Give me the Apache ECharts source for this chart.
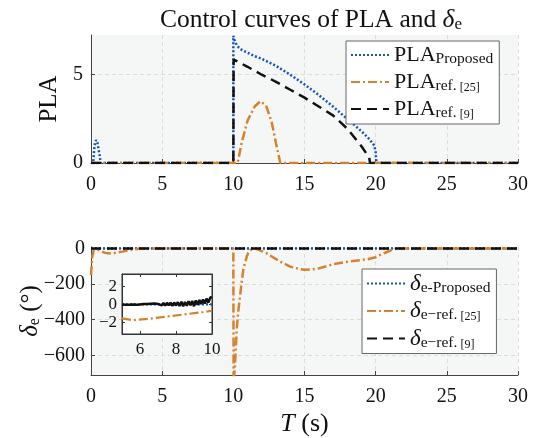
<!DOCTYPE html>
<html><head><meta charset="utf-8">
<script src="https://cdn.jsdelivr.net/npm/echarts@6/dist/echarts.min.js"></script>
<style>html,body{margin:0;padding:0;background:#fff}#c{width:536px;height:438px}</style>
</head><body><div id="c"></div>
<script>
// ---------- DATA ----------
const xTicks = [0, 5, 10, 15, 20, 25, 30];
const plaTicks = [0, 5];
const deTicks = [-600, -400, -200, 0];
const insetXTicks = [6, 8, 10];
const insetYTicks = [-2, 0, 2];

// PLA – proposed
const plaPropT = [0, 0.15, 0.25, 0.35, 0.45, 0.55, 0.65, 0.7, 10, 10.0, 10.1, 10.3, 10.6, 11, 11.5, 12, 13, 14, 15, 16, 17, 18, 19, 19.5, 19.9, 20.0, 20.05, 30];
const plaPropY = [0, 0, 1.0, 1.3, 1.15, 0.7, 0.2, 0, 0, 7.2, 6.9, 6.6, 6.4, 6.25, 6.05, 5.9, 5.5, 5.0, 4.45, 3.85, 3.2, 2.5, 1.8, 1.4, 1.0, 0.6, 0, 0];
// PLA – ref [25]
const plaR25T = [0, 10.3, 10.6, 11, 11.5, 11.9, 12.3, 12.7, 13.0, 13.3, 30];
const plaR25Y = [0, 0, 1.2, 2.4, 3.2, 3.5, 3.25, 2.3, 1.1, 0, 0];
// PLA – ref [9]
const plaR9T = [0, 10, 10.02, 11, 12, 13, 14, 15, 16, 17, 18, 19, 19.55, 19.6, 30];
const plaR9Y = [0, 0, 5.86, 5.45, 5.0, 4.6, 4.15, 3.7, 3.2, 2.7, 1.95, 0.95, 0.3, 0, 0];

// delta_e – proposed / ref [9]
const dePropT = [0, 30];
const dePropY = [0, 0];
const deR9T = [0, 30];
const deR9Y = [0, 0];
// delta_e – ref [25]
const deR25T = [0, 0.1, 0.2, 0.4, 0.7, 1.0, 1.3, 1.7, 2.2, 2.8, 3.5, 10, 10.02, 10.12, 10.24, 10.35, 10.47, 10.6, 10.7, 10.82, 10.94, 11.05, 11.17, 11.3, 11.45, 11.7, 12, 12.35, 13, 13.5, 14, 14.7, 15, 15.5, 16, 17, 18, 19.4, 20, 20.3, 20.8, 21.25, 21.7, 30];
const deR25Y = [-150, -40, -10, -5, -15, -25, -28, -25, -18, -8, 0, 0, -760, -650, -453, -350, -269, -180, -120, -80, -47, -25, -9, -2, 0, -5, -15, -28, -60, -83, -102, -117, -120, -118, -112, -89, -75, -61, -50, -37, -20, -4, 0, 0];

// inset (zoom 5–10 s)
const inT = [5.0,5.1,5.2,5.3,5.4,5.5,5.6,5.7,5.8,5.9,6.0,6.1,6.2,6.3,6.4,6.5,6.6,6.7,6.8,6.9,7.0,7.1,7.2,7.3,7.4,7.5,7.6,7.7,7.8,7.9,8.0,8.1,8.2,8.3,8.4,8.5,8.6,8.7,8.8,8.9,9.0,9.1,9.2,9.3,9.4,9.5,9.6,9.7,9.8,9.9,10.0];
const inBlack = [0.00,0.02,-0.03,0.01,-0.02,0.03,-0.01,0.02,-0.04,0.03,0.00,-0.05,0.06,-0.03,0.04,-0.07,0.08,-0.05,0.10,-0.08,0.06,0.12,-0.10,0.15,-0.12,0.18,-0.08,0.20,-0.15,0.22,-0.12,0.25,-0.18,0.30,-0.20,0.28,-0.15,0.35,-0.10,0.40,-0.20,0.45,-0.05,0.50,0.05,0.55,0.10,0.65,0.20,0.75,0.85];
const inBlueT = [5, 10];
const inBlueY = [0, 0];
const inOrT = [5.0, 5.6, 6.5, 7.5, 8.5, 9.5, 10.0];
const inOrY = [-1.55, -1.75, -1.6, -1.35, -1.1, -0.85, -0.7];

// ---------- STYLE ----------
const FF = 'Liberation Serif';
const BLUE = '#1a56b0', ORANGE = '#d6812d', BLACK = '#111111';
const DOT = [2, 2], DASHDOT = [9, 3, 2, 3], DASH = [10, 6];
const pairs = (t, y) => t.map((v, i) => [v, y[i]]);
const numFmt = v => '{n|' + String(v).replace('-', '\u2212') + '}';

const richBase = {
  m: {fontFamily: FF, fontSize: 22, color: '#111', lineHeight: 24},
  d: {fontFamily: FF, fontSize: 23, fontStyle: 'italic', color: '#111', lineHeight: 24},
  s: {fontFamily: FF, fontSize: 15.5, color: '#111', lineHeight: 12, verticalAlign: 'bottom'},
  t: {fontFamily: FF, fontSize: 12, color: '#111', lineHeight: 12, verticalAlign: 'bottom'}
};
const legendText = {
  PLA_Proposed: '{m|PLA}{s|Proposed}',
  PLA_ref25: '{m|PLA}{s|ref.}{t| [25]}',
  PLA_ref9: '{m|PLA}{s|ref.}{t| [9]}',
  d_Proposed: '{d|δ}{s|e-Proposed}',
  d_ref25: '{d|δ}{s|e\u2212ref.}{t| [25]}',
  d_ref9: '{d|δ}{s|e\u2212ref.}{t| [9]}'
};

const axisLineStyle = {color: '#444', width: 1};
const splitLineStyle = {show: true, lineStyle: {color: '#dcdcdc', type: [4, 3], width: 1}};
const tickLabel = {fontFamily: FF, fontSize: 20, color: '#111', formatter: numFmt,
  rich: {n: {fontFamily: FF, fontSize: 20, color: '#111'}}};
const insetLabel = {fontFamily: FF, fontSize: 17, color: '#111', formatter: numFmt,
  rich: {n: {fontFamily: FF, fontSize: 17, color: '#111'}}};

function mainX(gi) {
  return {type: 'value', gridIndex: gi, min: 0, max: 30, interval: 5,
    axisLine: {show: true, lineStyle: axisLineStyle, onZero: false},
    axisTick: {show: true, inside: true, length: 4, lineStyle: axisLineStyle},
    axisLabel: Object.assign({margin: 12}, tickLabel),
    splitLine: splitLineStyle};
}
function line(name, t, y, color, dash, width, xi, yi, z) {
  return {type: 'line', name, xAxisIndex: xi, yAxisIndex: yi, data: pairs(t, y),
    symbol: 'none', showSymbol: false, animation: false, z: z || 2,
    lineStyle: {color, type: dash, width: width, cap: 'butt'},
    itemStyle: {color}};
}
const legendCommon = {
  orient: 'vertical', itemWidth: 38, itemHeight: 12, itemGap: 4, padding: [3, 6, 3, 4],
  borderColor: '#666', borderWidth: 1, backgroundColor: '#ffffff',
  itemStyle: {color: 'rgba(0,0,0,0)', borderWidth: 0, opacity: 0},
  formatter: n => legendText[n], textStyle: {rich: richBase}
};

const option = {
  animation: false,
  backgroundColor: '#ffffff',
  textStyle: {fontFamily: FF},
  title: {
    text: '{a|Control curves of PLA and }{d|δ}{s|e}',
    left: 306, top: 2, textAlign: 'center',
    textStyle: {fontWeight: 'normal', rich: {
      a: {fontFamily: FF, fontSize: 25.5, fontWeight: 'normal', color: '#111', lineHeight: 26},
      d: {fontFamily: FF, fontSize: 25.5, fontWeight: 'normal', fontStyle: 'italic', color: '#111', lineHeight: 26},
      s: {fontFamily: FF, fontSize: 17, fontWeight: 'normal', color: '#111', lineHeight: 14, verticalAlign: 'bottom'}
    }}
  },
  grid: [
    {left: 91, top: 35, width: 427, height: 128, show: true, backgroundColor: '#f5f7f7', borderWidth: 0, containLabel: false},
    {left: 91, top: 247, width: 427, height: 129, show: true, backgroundColor: '#f5f7f7', borderWidth: 0, containLabel: false},
    {left: 122, top: 274, width: 90, height: 60, show: true, backgroundColor: '#ffffff', borderWidth: 1, borderColor: '#333', z: 3}
  ],
  xAxis: [
    mainX(0),
    Object.assign(mainX(1), {name: '{i|T}{a| (s)}', nameLocation: 'middle', nameGap: 36, nameMoveOverlap: false,
      nameTextStyle: {rich: {i: {fontFamily: FF, fontSize: 26, fontStyle: 'italic', color: '#111'}, a: {fontFamily: FF, fontSize: 26, color: '#111'}}}}),
    {type: 'value', gridIndex: 2, min: 5, max: 10, z: 4,
      axisLine: {show: true, lineStyle: {color: '#333'}, onZero: false},
      axisTick: {show: true, inside: true, length: 3, customValues: insetXTicks, lineStyle: {color: '#333'}},
      axisLabel: Object.assign({margin: 7, customValues: insetXTicks}, insetLabel),
      splitLine: {show: false}},
    {type: 'value', gridIndex: 2, min: 5, max: 10, position: 'top', z: 4,
      axisLine: {show: true, lineStyle: {color: '#333'}, onZero: false},
      axisTick: {show: true, inside: true, length: 3, customValues: insetXTicks, lineStyle: {color: '#333'}},
      axisLabel: {show: false}, splitLine: {show: false}}
  ],
  yAxis: [
    {type: 'value', gridIndex: 0, min: 0, max: 7.25,
      name: 'PLA', nameLocation: 'middle', nameGap: 29, nameMoveOverlap: false,
      nameTextStyle: {fontFamily: FF, fontSize: 25, color: '#111'},
      axisLine: {show: true, lineStyle: axisLineStyle, onZero: false},
      axisTick: {show: true, inside: true, length: 4, customValues: plaTicks, lineStyle: axisLineStyle},
      axisLabel: Object.assign({margin: 8, customValues: plaTicks}, tickLabel),
      splitLine: splitLineStyle},
    {type: 'value', gridIndex: 1, min: -710, max: 8,
      name: '{d|δ}{s|e}{a| (°)}', nameLocation: 'middle', nameGap: 48, nameMoveOverlap: false,
      nameTextStyle: {rich: {
        d: {fontFamily: FF, fontSize: 25, fontStyle: 'italic', color: '#111', lineHeight: 26},
        s: {fontFamily: FF, fontSize: 16, color: '#111', lineHeight: 14, verticalAlign: 'bottom'},
        a: {fontFamily: FF, fontSize: 25, color: '#111', lineHeight: 26}}},
      axisLine: {show: true, lineStyle: axisLineStyle, onZero: false},
      axisTick: {show: true, inside: true, length: 4, customValues: deTicks, lineStyle: axisLineStyle},
      axisLabel: Object.assign({margin: 6, customValues: deTicks}, tickLabel),
      splitLine: splitLineStyle},
    {type: 'value', gridIndex: 2, min: -3.3, max: 3.4, z: 4,
      axisLine: {show: true, lineStyle: {color: '#333'}, onZero: false},
      axisTick: {show: true, inside: true, length: 3, customValues: insetYTicks, lineStyle: {color: '#333'}},
      axisLabel: Object.assign({margin: 5, customValues: insetYTicks}, insetLabel),
      splitLine: {show: false}},
    {type: 'value', gridIndex: 2, min: -3.3, max: 3.4, position: 'right', z: 4,
      axisLine: {show: true, lineStyle: {color: '#333'}, onZero: false},
      axisTick: {show: true, inside: true, length: 3, customValues: insetYTicks, lineStyle: {color: '#333'}},
      axisLabel: {show: false}, splitLine: {show: false}}
  ],
  legend: [
    Object.assign({data: ['PLA_Proposed', 'PLA_ref25', 'PLA_ref9'], left: 346, top: 41}, legendCommon),
    Object.assign({data: ['d_Proposed', 'd_ref25', 'd_ref9'], left: 362, top: 269}, legendCommon)
  ],
  series: [
    line('PLA_Proposed', plaPropT, plaPropY, BLUE, DOT, 2.5, 0, 0),
    line('PLA_ref25', plaR25T, plaR25Y, ORANGE, DASHDOT, 2.5, 0, 0),
    line('PLA_ref9', plaR9T, plaR9Y, BLACK, DASH, 2.5, 0, 0),
    line('d_Proposed', dePropT, dePropY, BLUE, DOT, 2.5, 1, 1),
    line('d_ref25', deR25T, deR25Y, ORANGE, DASHDOT, 2.5, 1, 1),
    line('d_ref9', deR9T, deR9Y, BLACK, DASH, 2.5, 1, 1),
    line('in_blue', inBlueT, inBlueY, BLUE, DOT, 2.2, 2, 2, 5),
    line('in_orange', inOrT, inOrY, ORANGE, DASHDOT, 2.2, 2, 2, 5),
    line('in_black', inT, inBlack, BLACK, 'solid', 2.5, 2, 2, 6)
  ]
};
const chart = echarts.init(document.getElementById('c'), null, {renderer: 'canvas'});
chart.setOption(option);
</script></body></html>
